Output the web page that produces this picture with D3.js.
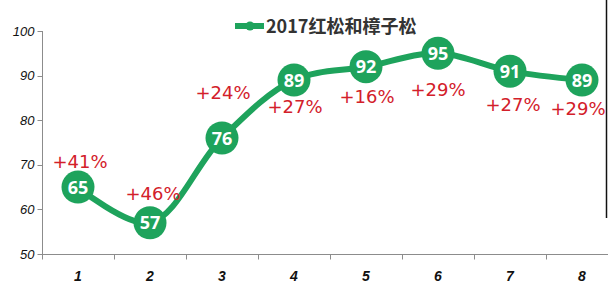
<!DOCTYPE html>
<html>
<head>
<meta charset="utf-8">
<script src="https://cdn.jsdelivr.net/npm/d3@7"></script>
<style>
  body { margin: 0; background: #fff; }
  svg { display: block; }
</style>
</head>
<body>
<svg id="chart" width="608" height="289"></svg>
<script>
// data
var categories = ["1", "2", "3", "4", "5", "6", "7", "8"];
var values = [65, 57, 76, 89, 92, 95, 91, 89];
var growthLabels = ["+41%", "+46%", "+24%", "+27%", "+16%", "+29%", "+27%", "+29%"];
var yTicks = [50, 60, 70, 80, 90, 100];
var seriesName = "2017红松和樟子松";

// where each red label sits relative to its point (px)
var labelDy = [-19, -23, -39, 33, 36, 43, 40, 35];
var labelDx = [2, 3, 1, 1, 1, 0, 3, -4];

var green = "#1ea35c", red = "#d3202a", axisColor = "#8c8c8c";

var svg = d3.select("#chart");

var x = d3.scaleBand()
    .domain(categories)
    .range([42, 618])
    .padding(0);

var y = d3.scaleLinear()
    .domain([50, 100])
    .range([254, 31]);

// y axis
var yAxis = svg.append("g").attr("transform", "translate(42.5,0)");
yAxis.append("line")
    .attr("y1", y(100)).attr("y2", y(50))
    .attr("stroke", axisColor);
yAxis.selectAll(".yt").data(yTicks).enter().append("line")
    .attr("x1", -5).attr("x2", 0)
    .attr("y1", function (d) { return Math.round(y(d)) + 0.5; })
    .attr("y2", function (d) { return Math.round(y(d)) + 0.5; })
    .attr("stroke", axisColor);
yAxis.selectAll(".yl").data(yTicks).enter().append("text")
    .attr("x", -8)
    .attr("y", function (d) { return y(d) + 4.5; })
    .attr("text-anchor", "end")
    .style("font", "italic 13px 'Liberation Sans', Arial, sans-serif")
    .attr("fill", "#111")
    .text(function (d) { return d; });

// x axis
var xAxis = svg.append("g").attr("transform", "translate(0," + (Math.round(y(50)) + 0.5) + ")");
xAxis.append("line")
    .attr("x1", 42).attr("x2", 608)
    .attr("stroke", axisColor);
xAxis.selectAll(".xt").data(categories).enter().append("line")
    .attr("x1", function (d) { return Math.round(x(d)) + 0.5; })
    .attr("x2", function (d) { return Math.round(x(d)) + 0.5; })
    .attr("y1", 0).attr("y2", 5)
    .attr("stroke", axisColor);
xAxis.selectAll(".xl").data(categories).enter().append("text")
    .attr("x", function (d) { return x(d) + x.bandwidth() / 2; })
    .attr("y", 26)
    .attr("text-anchor", "middle")
    .style("font", "italic bold 14px 'Liberation Sans', Arial, sans-serif")
    .attr("fill", "#111")
    .text(function (d) { return d; });

// right border artifact
svg.append("line")
    .attr("x1", 606.5).attr("x2", 606.5)
    .attr("y1", 0).attr("y2", 218)
    .attr("stroke", "#111").attr("stroke-width", 1.5);

var pts = values.map(function (v, i) {
    return { cx: x(categories[i]) + x.bandwidth() / 2, cy: y(v), v: v, i: i };
});

var line = d3.line()
    .x(function (d) { return d.cx; })
    .y(function (d) { return d.cy; })
    .curve(d3.curveCatmullRom.alpha(0.5));

svg.append("path")
    .datum(pts)
    .attr("d", line)
    .attr("fill", "none")
    .attr("stroke", green)
    .attr("stroke-width", 6)
    .attr("stroke-linecap", "round");

// red growth labels
svg.selectAll(".gl").data(pts).enter().append("text")
    .attr("x", function (d) { return d.cx + labelDx[d.i]; })
    .attr("y", function (d) { return d.cy + labelDy[d.i]; })
    .attr("text-anchor", "middle")
    .style("font", "18px 'DejaVu Sans', sans-serif")
    .attr("fill", red)
    .text(function (d) { return growthLabels[d.i]; });

var marks = svg.selectAll(".pt").data(pts).enter().append("g");
marks.append("circle")
    .attr("cx", function (d) { return d.cx; })
    .attr("cy", function (d) { return d.cy; })
    .attr("r", 16.5)
    .attr("fill", green);
marks.append("text")
    .attr("x", function (d) { return d.cx; })
    .attr("y", function (d) { return d.cy + 6.5; })
    .attr("text-anchor", "middle")
    .style("font", "bold 18px 'Open Sans', sans-serif")
    .attr("fill", "#fff")
    .text(function (d) { return d.v; });

// legend
var lg = svg.append("g").attr("transform", "translate(235,26)");
lg.append("line")
    .attr("x1", 0).attr("x2", 29)
    .attr("stroke", green).attr("stroke-width", 6);
lg.append("circle")
    .attr("cx", 15).attr("r", 4.5)
    .attr("fill", green);
lg.append("text")
    .attr("x", 31).attr("y", 6.5)
    .style("font", "bold 18px 'Noto Sans CJK SC', sans-serif")
    .attr("fill", "#333")
    .text(seriesName);
</script>
</body>
</html>
